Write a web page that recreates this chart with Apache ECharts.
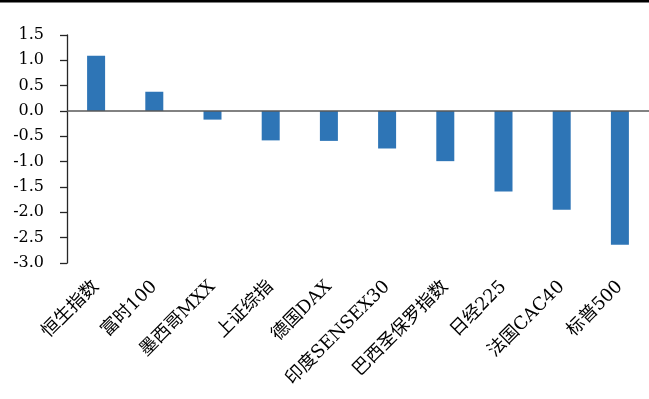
<!DOCTYPE html>
<html>
<head>
<meta charset="utf-8">
<script src="https://cdn.jsdelivr.net/npm/echarts@6/dist/echarts.min.js"></script>
<style>
    html, body { margin: 0; padding: 0; background: #fff; }
    #main { width: 649px; height: 399px; }
</style>
</head>
<body>
<div id="main"></div>
<script>
var categories = ['恒生指数', '富时100', '墨西哥MXX', '上证综指', '德国DAX', '印度SENSEX30', '巴西圣保罗指数', '日经225', '法国CAC40', '标普500'];
var values = [1.09, 0.38, -0.17, -0.58, -0.59, -0.74, -0.99, -1.59, -1.95, -2.64];

var font = '"DejaVu Serif", "Liberation Serif", "Noto Sans CJK SC", serif';

var myChart = echarts.init(document.getElementById('main'));

option = {
    animation: false,
    graphic: [{
        type: 'rect',
        shape: { x: 0, y: 0, width: 649, height: 2.5 },
        style: { fill: '#000' }
    }],
    grid: {
        left: 67,
        top: 35,
        width: 585,
        bottom: 136
    },
    xAxis: {
        type: 'category',
        data: categories,
        position: 'bottom',
        axisLine: { show: false, onZero: false },
        axisTick: { show: false },
        axisLabel: {
            interval: 0,
            rotate: 45,
            margin: 21,
            color: '#000',
            fontSize: 18,
            fontFamily: font
        }
    },
    yAxis: {
        type: 'value',
        min: -3,
        max: 1.5,
        interval: 0.5,
        splitLine: { show: false },
        axisLine: {
            show: true,
            lineStyle: { color: '#262626', width: 1.3 }
        },
        axisTick: {
            show: true,
            length: 7,
            lineStyle: { color: '#262626', width: 1.3 }
        },
        axisLabel: {
            margin: 23,
            color: '#000',
            fontSize: 16,
            fontFamily: font,
            formatter: function (v) { return v.toFixed(1); }
        }
    },
    series: [{
        type: 'bar',
        data: values,
        barWidth: 18,
        itemStyle: { color: '#2E75B6' },
        markLine: {
            silent: true,
            symbol: 'none',
            label: { show: false },
            lineStyle: { color: '#595959', width: 1.5, type: 'solid' },
            data: [{ yAxis: 0 }]
        }
    }]
};
myChart.setOption(option);
</script>
</body>
</html>
